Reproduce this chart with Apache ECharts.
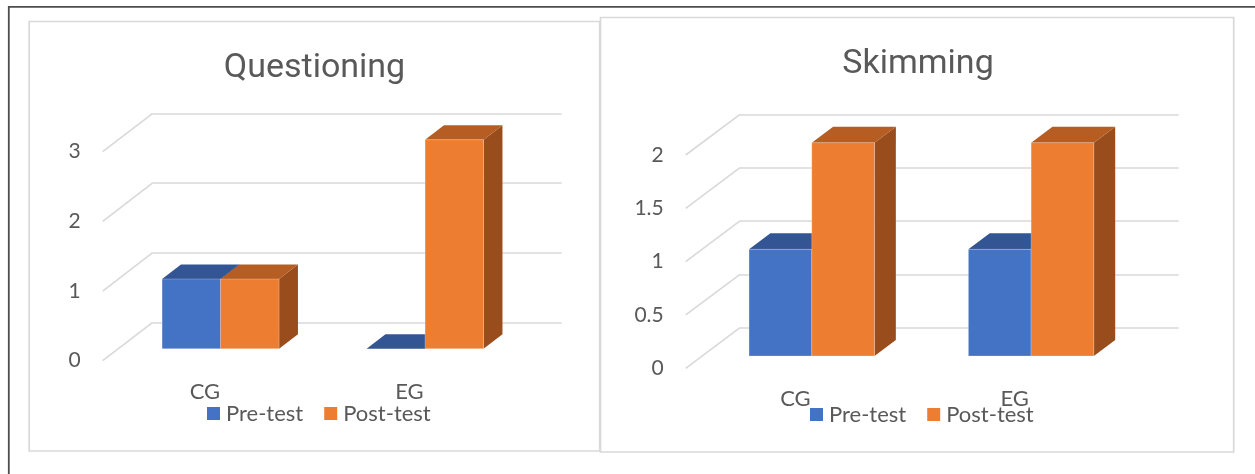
<!DOCTYPE html>
<html>
<head>
<meta charset="utf-8">
<title>Questioning / Skimming</title>
<script src="https://cdn.jsdelivr.net/npm/echarts/dist/echarts.min.js"></script>
<style>
  html, body { margin: 0; padding: 0; background: #ffffff; }
  #chart { width: 1255px; height: 474px; }
</style>
</head>
<body>
<div id="chart"></div>
<script>
// ---- data ----
const categories = ['CG', 'EG'];
const seriesNames = ['Pre-test', 'Post-test'];

const questioningPre = [1, 0];
const questioningPost = [1, 3];
const questioningTicks = [0, 1, 2, 3];

const skimmingPre = [1, 1];
const skimmingPost = [2, 2];
const skimmingTicks = [0, 0.5, 1, 1.5, 2];

// ---- styling ----
const FONT = 'Lato';
const TITLE_FONT = 'Roboto';
const TEXT = '#595959';
const GRID_LINE = '#d9d9d9';
const COLORS = {
  pre:  { front: '#4472c4', top: '#335593', side: '#2c4c86' },
  post: { front: '#ed7d31', top: '#b55d22', side: '#9a4d1c' }
};

// Each panel: the front plane (where value labels sit), an oblique depth
// vector to the back wall, and where the bars sit inside that depth.
const panels = [
  {
    title: 'Questioning', titleX: 314.5, titleTop: 51,
    front: { left: 102.7, top: 151.7, width: 409, height: 209 },
    depth: [50, -38.4], barFront: 0.3125, barDepth: 0.378,
    legendLeft: 207, legendTop: 402.5,
    pre: questioningPre, post: questioningPost, ticks: questioningTicks
  },
  {
    title: 'Skimming', titleX: 918, titleTop: 47,
    front: { left: 685.7, top: 155, width: 438.7, height: 213.3 },
    depth: [54.3, -40.7], barFront: 0.302, barDepth: 0.393,
    legendLeft: 810, legendTop: 403.5,
    pre: skimmingPre, post: skimmingPost, ticks: skimmingTicks
  }
];

const BAR_FRACTION = 0.286; // width of one bar relative to the category band

function tickStep(ticks) { return ticks[1] - ticks[0]; }

function barRenderer(panel, which) {
  const [Dx, Dy] = panel.depth;
  const ox = panel.barFront * Dx, oy = panel.barFront * Dy;
  const dx = panel.barDepth * Dx, dy = panel.barDepth * Dy;
  const c = COLORS[which];
  return function (params, api) {
    const idx = api.value(0);
    const v = api.value(1);
    const base = api.coord([idx, 0]);
    const top = api.coord([idx, v]);
    const band = api.size([1, 0])[0];
    const bw = band * BAR_FRACTION;
    const x0 = base[0] + (which === 'pre' ? -bw : 0) + ox;
    const yb = base[1] + oy;
    const yt = top[1] + oy;
    const children = [];
    // right side face
    children.push({
      type: 'polygon',
      shape: { points: [[x0 + bw, yt], [x0 + bw + dx, yt + dy], [x0 + bw + dx, yb + dy], [x0 + bw, yb]] },
      style: { fill: c.side }
    });
    // top face
    children.push({
      type: 'polygon',
      shape: { points: [[x0, yt], [x0 + bw, yt], [x0 + bw + dx, yt + dy], [x0 + dx, yt + dy]] },
      style: { fill: c.top }
    });
    // front face
    if (yb - yt > 0.5) {
      children.push({
        type: 'rect',
        shape: { x: x0, y: yt, width: bw, height: yb - yt },
        style: { fill: c.front, stroke: 'rgba(255,255,255,0.25)', lineWidth: 1 }
      });
    }
    return { type: 'group', children: children };
  };
}

function diagonalRenderer(panel) {
  const [Dx, Dy] = panel.depth;
  return function (params, api) {
    const y = api.coord([0, api.value(1)])[1];
    const x = params.coordSys.x;
    return {
      type: 'line',
      shape: { x1: x, y1: y, x2: x + Dx, y2: y + Dy },
      style: { stroke: GRID_LINE, lineWidth: 1.6 }
    };
  };
}

const option = {
  animation: false,
  backgroundColor: '#ffffff',
  title: [],
  legend: [],
  grid: [],
  xAxis: [],
  yAxis: [],
  series: [],
  graphic: [
    // panel frames
    { type: 'rect', shape: { x: 29.2, y: 21.5, width: 570.5, height: 429.5 },
      style: { fill: '#ffffff', stroke: GRID_LINE, lineWidth: 1.7 }, z: -10 },
    { type: 'rect', shape: { x: 600.5, y: 17.5, width: 633.2, height: 434.5 },
      style: { fill: '#ffffff', stroke: GRID_LINE, lineWidth: 1.7 }, z: -9 },
    // outer page edge
    { type: 'polyline', shape: { points: [[8.8, 474], [8.8, 6.8], [1255, 6.8]] },
      style: { stroke: '#4d4d4d', lineWidth: 1.8, fill: null }, z: -8 }
  ]
};

panels.forEach(function (p, i) {
  const gFront = i * 2, gBack = i * 2 + 1;
  const ticks = p.ticks;
  const yMin = ticks[0], yMax = ticks[ticks.length - 1], step = tickStep(ticks);

  option.title.push({
    text: p.title, left: p.titleX, top: p.titleTop, textAlign: 'center', padding: 0,
    textStyle: { fontFamily: TITLE_FONT, fontSize: 34, fontWeight: 'normal', color: TEXT }
  });

  option.legend.push({
    data: seriesNames.map(function (n, k) {
      return { name: n, icon: 'rect', itemStyle: { color: k === 0 ? COLORS.pre.front : COLORS.post.front } };
    }),
    left: p.legendLeft, top: p.legendTop, padding: 0,
    itemWidth: 13, itemHeight: 13, itemGap: 21, selectedMode: false,
    textStyle: { fontFamily: FONT, fontSize: 22, color: TEXT, padding: [0, 0, 0, 1] }
  });

  // front plane: carries labels
  option.grid.push({ left: p.front.left, top: p.front.top, width: p.front.width, height: p.front.height });
  // back wall: carries the horizontal gridlines
  option.grid.push({
    left: p.front.left + p.depth[0], top: p.front.top + p.depth[1],
    width: p.front.width, height: p.front.height
  });

  option.xAxis.push({
    type: 'category', data: categories, gridIndex: gFront,
    axisLine: { show: false }, axisTick: { show: false }, splitLine: { show: false },
    axisLabel: { margin: 20, fontFamily: FONT, fontSize: 22, color: TEXT }
  });
  option.xAxis.push({
    type: 'category', data: categories, gridIndex: gBack, show: false
  });

  option.yAxis.push({
    type: 'value', gridIndex: gFront, min: yMin, max: yMax, interval: step,
    axisLine: { show: false }, axisTick: { show: false }, splitLine: { show: false },
    axisLabel: { margin: 22, fontFamily: FONT, fontSize: 21, color: TEXT, padding: [8, 0, 0, 0] }
  });
  option.yAxis.push({
    type: 'value', gridIndex: gBack, min: yMin, max: yMax, interval: step,
    axisLine: { show: false }, axisTick: { show: false }, axisLabel: { show: false },
    splitLine: { show: true, lineStyle: { color: GRID_LINE, width: 1.6 } }
  });

  // floor-to-wall diagonals at each tick
  option.series.push({
    type: 'custom', name: 'depth-' + i, xAxisIndex: gFront, yAxisIndex: gFront,
    renderItem: diagonalRenderer(p), silent: true, z: 1,
    data: ticks.map(function (t) { return [0, t]; })
  });

  option.series.push({
    type: 'custom', name: seriesNames[0], xAxisIndex: gFront, yAxisIndex: gFront,
    renderItem: barRenderer(p, 'pre'), z: 3,
    itemStyle: { color: COLORS.pre.front },
    data: p.pre.map(function (v, k) { return [k, v]; })
  });
  option.series.push({
    type: 'custom', name: seriesNames[1], xAxisIndex: gFront, yAxisIndex: gFront,
    renderItem: barRenderer(p, 'post'), z: 4,
    itemStyle: { color: COLORS.post.front },
    data: p.post.map(function (v, k) { return [k, v]; })
  });
});

const chart = echarts.init(document.getElementById('chart'), null, { renderer: 'canvas' });
chart.setOption(option);
</script>
</body>
</html>
